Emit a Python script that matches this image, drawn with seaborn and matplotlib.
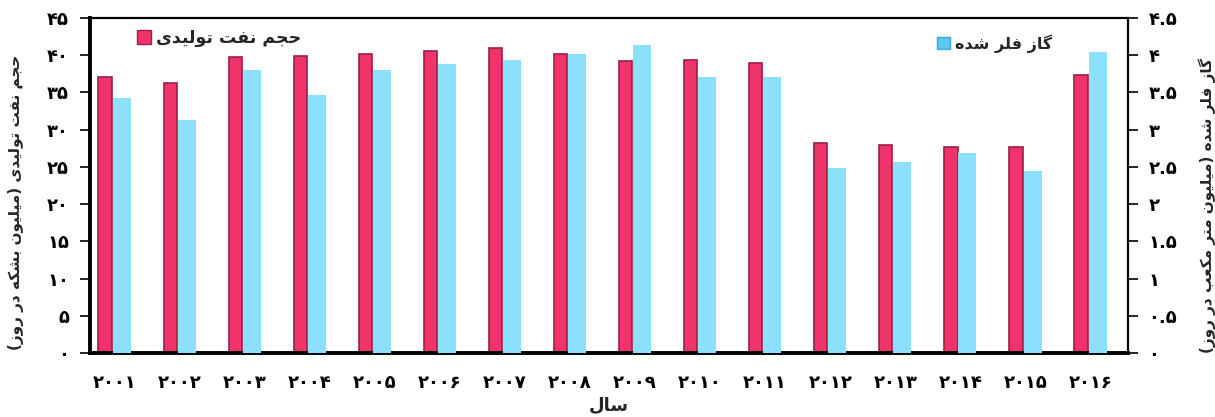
import numpy as np
import pandas as pd
import matplotlib
matplotlib.use("Agg")
import matplotlib.pyplot as plt
import seaborn as sns
from matplotlib.patches import Patch

# داده‌ها
years = ['۲۰۰۱', '۲۰۰۲', '۲۰۰۳', '۲۰۰۴', '۲۰۰۵', '۲۰۰۶', '۲۰۰۷', '۲۰۰۸',
         '۲۰۰۹', '۲۰۱۰', '۲۰۱۱', '۲۰۱۲', '۲۰۱۳', '۲۰۱۴', '۲۰۱۵', '۲۰۱۶']
oil = [37.0, 36.3, 39.8, 39.95, 40.2, 40.5, 41.0, 40.1,
       39.2, 39.4, 39.0, 28.2, 27.9, 27.7, 27.6, 37.4]
gas = [3.43, 3.13, 3.80, 3.47, 3.80, 3.88, 3.93, 4.02,
       4.14, 3.70, 3.71, 2.48, 2.57, 2.68, 2.45, 4.04]

left_ticks = [0, 5, 10, 15, 20, 25, 30, 35, 40, 45]
left_ticklabels = ['۰', '۵', '۱۰', '۱۵', '۲۰', '۲۵', '۳۰', '۳۵', '۴۰', '۴۵']
right_ticks = [0, 0.5, 1, 1.5, 2, 2.5, 3, 3.5, 4, 4.5]
right_ticklabels = ['۰', '۰.۵', '۱', '۱.۵', '۲', '۲.۵', '۳', '۳.۵', '۴', '۴.۵']

oil_name = 'حجم نفت تولیدی'
gas_name = 'گاز فلر شده'
left_label = 'حجم نفت تولیدی (میلیون بشکه در روز)'
right_label = 'گاز فلر شده (میلیون متر مکعب در روز)'
x_label = 'سال'

# شکل‌دهی ساده حروف فارسی (matplotlib خودش اتصال حروف را انجام نمی‌دهد)
FORMS = {  # isolated, final, initial, medial
    'ا': ('\uFE8D', '\uFE8E', None, None),
    'ب': ('\uFE8F', '\uFE90', '\uFE91', '\uFE92'),
    'ت': ('\uFE95', '\uFE96', '\uFE97', '\uFE98'),
    'ج': ('\uFE9D', '\uFE9E', '\uFE9F', '\uFEA0'),
    'ح': ('\uFEA1', '\uFEA2', '\uFEA3', '\uFEA4'),
    'د': ('\uFEA9', '\uFEAA', None, None),
    'ر': ('\uFEAD', '\uFEAE', None, None),
    'ز': ('\uFEAF', '\uFEB0', None, None),
    'س': ('\uFEB1', '\uFEB2', '\uFEB3', '\uFEB4'),
    'ش': ('\uFEB5', '\uFEB6', '\uFEB7', '\uFEB8'),
    'ع': ('\uFEC9', '\uFECA', '\uFECB', '\uFECC'),
    'ف': ('\uFED1', '\uFED2', '\uFED3', '\uFED4'),
    'ل': ('\uFEDD', '\uFEDE', '\uFEDF', '\uFEE0'),
    'م': ('\uFEE1', '\uFEE2', '\uFEE3', '\uFEE4'),
    'ن': ('\uFEE5', '\uFEE6', '\uFEE7', '\uFEE8'),
    'ه': ('\uFEE9', '\uFEEA', '\uFEEB', '\uFEEC'),
    'و': ('\uFEED', '\uFEEE', None, None),
    'ک': ('\uFB8E', '\uFB8F', '\uFB90', '\uFB91'),
    'گ': ('\uFB92', '\uFB93', '\uFB94', '\uFB95'),
    'ی': ('\uFBFC', '\uFBFD', '\uFBFE', '\uFBFF'),
}


def fa(text):
    out = []
    for i, c in enumerate(text):
        if c not in FORMS:
            out.append(c)
            continue
        iso, fin, ini, med = FORMS[c]
        prev = text[i - 1] if i > 0 else ''
        nxt = text[i + 1] if i + 1 < len(text) else ''
        jp = prev in FORMS and FORMS[prev][2] is not None
        jn = ini is not None and nxt in FORMS
        out.append(med if (jp and jn) else fin if jp else ini if jn else iso)
    return ''.join(out)[::-1].translate(str.maketrans('()', ')('))


sns.set_theme(style='white')
plt.rcParams['font.family'] = ['DejaVu Sans']
plt.rcParams['font.weight'] = 'bold'

red = '#F0336B'
red_edge = '#9A1F45'
blue = '#8DE0FD'

fig = plt.figure(figsize=(12.15, 4.17), dpi=100)
ax = fig.add_axes([0.074, 0.1535, 0.854, 0.8035])
ax2 = ax.twinx()

df = pd.DataFrame({'year': years, 'oil': oil, 'gas': gas})

# ستون‌های نفت روی محور چپ
sns.barplot(data=df, x='year', y='oil', order=years, color=red, width=0.205,
            edgecolor=red_edge, linewidth=1.2, saturation=1, ax=ax)
for p in ax.patches:
    p.set_x(p.get_x() - 0.146)

# ستون‌های گاز روی محور راست
sns.barplot(data=df, x='year', y='gas', order=years, color=blue, width=0.277,
            linewidth=0, saturation=1, ax=ax2)
for p in ax2.patches:
    p.set_x(p.get_x() + 0.11)

ax.set_xlim(-0.38, 15.57)
ax.set_ylim(0, 45)
ax2.set_ylim(0, 4.5)

ax.set_yticks(left_ticks)
ax.set_yticklabels(left_ticklabels, fontsize=13, fontweight='bold')
ax2.set_yticks(right_ticks)
ax2.set_yticklabels(right_ticklabels, fontsize=13, fontweight='bold')
ax.set_xticks(range(len(years)))
ax.set_xticklabels(years, fontsize=13, fontweight='bold')

ax.tick_params(axis='y', direction='out', length=7, width=1.2, pad=8, colors='black', left=True)
ax2.tick_params(axis='y', direction='out', length=7, width=1.2, pad=8, colors='black', right=True)
ax.tick_params(axis='x', length=0, pad=15, colors='black')

for a in (ax, ax2):
    a.grid(False)
    for s in a.spines.values():
        s.set_color('black')
        s.set_linewidth(1.5)
ax.spines['left'].set_linewidth(2.8)
ax.spines['bottom'].set_linewidth(2.8)
ax2.spines['left'].set_visible(False)
ax2.spines['bottom'].set_visible(False)

ax.set_xlabel(fa(x_label), fontsize=13, fontweight='bold', labelpad=3)
ax.set_ylabel(fa(left_label), fontsize=11, fontweight='bold')
ax2.set_ylabel(fa(right_label), fontsize=11, fontweight='bold', rotation=90)
ax.yaxis.set_label_coords(-0.064, 0.45)
ax2.yaxis.set_label_coords(1.068, 0.44)

leg1 = ax.legend(handles=[Patch(facecolor=red, edgecolor=red_edge)], labels=[fa(oil_name)],
                 loc='center left', bbox_to_anchor=(0.03, 0.94), frameon=False,
                 handlelength=0.8, handleheight=0.8, handletextpad=0.3,
                 prop={'size': 12.5, 'weight': 'bold'})
leg2 = ax2.legend(handles=[Patch(facecolor='#5CC6F0', edgecolor='#3AA8DA')], labels=[fa(gas_name)],
                  loc='center left', bbox_to_anchor=(0.803, 0.924), frameon=False,
                  handlelength=0.8, handleheight=0.8, handletextpad=0.3,
                  prop={'size': 11.5, 'weight': 'bold'})

fig.savefig('out.png', dpi=100)
